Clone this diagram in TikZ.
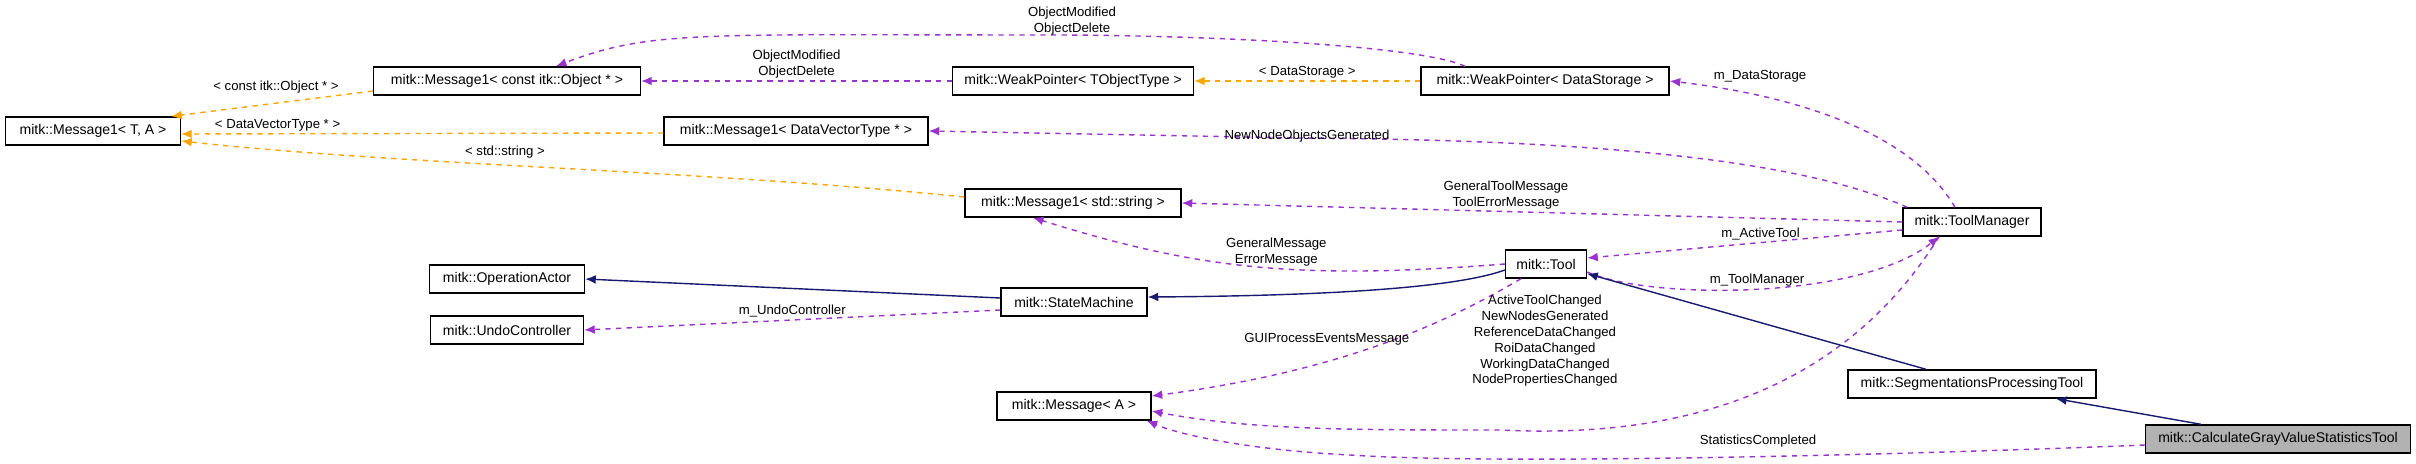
\documentclass[tikz,border=0pt]{standalone}
\usepackage{fontspec}
\setmainfont{Liberation Sans}
\usepackage{tikz}
\usetikzlibrary{arrows.meta}
\definecolor{navy}{HTML}{191970}
\definecolor{purp}{HTML}{9A32CD}
\definecolor{orng}{HTML}{FFA500}
\tikzset{>={Latex[length=6pt,width=5pt]}}
\tikzset{cls/.style={draw,thick,fill=white,inner sep=0pt,minimum height=0.56cm,font=\fontsize{8}{9}\selectfont}}
\tikzset{inh/.style={->,navy,thick}}
\tikzset{use/.style={->,purp,thick,dashed}}
\tikzset{tmpl/.style={->,orng,thick,dashed}}
\tikzset{lbl/.style={text=black,font=\fontsize{7.5}{9}\selectfont,align=center,inner sep=1pt}}

\begin{document}
\begin{tikzpicture}[x=0.02cm,y=-0.02cm]
	\useasboundingbox (0,0) rectangle (2416,463);
	\node[cls,minimum width=3.5cm] (msgta) at (93,131) {mitk::Message1\textless{} T, A \textgreater};
	\node[cls,minimum width=5.34cm] (msgobj) at (507,81) {mitk::Message1\textless{} const itk::Object * \textgreater};
	\node[cls,minimum width=5.28cm] (msgdv) at (796,131) {mitk::Message1\textless{} DataVectorType * \textgreater};
	\node[cls,minimum width=3.1cm] (opactor) at (507,279) {mitk::OperationActor};
	\node[cls,minimum width=3.06cm] (undo) at (507,330) {mitk::UndoController};
	\node[cls,minimum width=4.82cm] (wpobj) at (1073,81) {mitk::WeakPointer\textless{} TObjectType \textgreater};
	\node[cls,minimum width=4.96cm] (wpds) at (1545,81) {mitk::WeakPointer\textless{} DataStorage \textgreater};
	\node[cls,minimum width=4.32cm] (msgstr) at (1073,203) {mitk::Message1\textless{} std::string \textgreater};
	\node[cls,minimum width=2.76cm] (toolmgr) at (1972,222) {mitk::ToolManager};
	\node[cls,minimum width=1.62cm] (tool) at (1546,264) {mitk::Tool};
	\node[cls,minimum width=2.92cm] (statem) at (1074,302) {mitk::StateMachine};
	\node[cls,minimum width=3.08cm] (msga) at (1074,406) {mitk::Message\textless{} A \textgreater};
	\node[cls,minimum width=4.96cm] (segtool) at (1972,384) {mitk::SegmentationsProcessingTool};
	\node[cls,minimum width=5.3cm,fill=gray!60] (calc) at (2278,439) {mitk::CalculateGrayValueStatisticsTool};
	% template instances
	\draw[tmpl] ([yshift=-0.2cm]msgobj.west) -- ([xshift=-0.2cm]msgta.north east);
	\draw[tmpl] ([yshift=-0.04cm]msgdv.west) -- node[lbl,above,pos=0.8]{\textless{} DataVectorType * \textgreater} ([yshift=-0.06cm]msgta.east);
	\draw[tmpl] ([yshift=0.12cm]msgstr.west) .. controls (700,170) and (400,165) .. ([yshift=-0.2cm]msgta.east);
	\draw[tmpl] (wpds.west) -- node[lbl,above]{\textless{} DataStorage \textgreater} (wpobj.east);
	\node[lbl] (lobj) at (276,87) {\textless{} const itk::Object * \textgreater};
	\node[lbl] (lstr) at (505,152) {\textless{} std::string \textgreater};
	% usage
	\draw[use] (wpobj.west) -- node[lbl,above]{ObjectModified\\ObjectDelete} (msgobj.east);
	\draw[use] ([xshift=-1.6cm]wpds.north) .. controls (1420,45) and (1200,35) .. (1050,35) .. controls (700,35) and (650,30) .. ([xshift=0.98cm]msgobj.north);
	\node[lbl] (lwpds) at (1072,21) {ObjectModified\\ObjectDelete};
	\draw[use] ([xshift=-0.34cm]toolmgr.north) .. controls (1910,130) and (1790,95) .. (wpds.east);
	\node[lbl] (lds) at (1760,76) {m\_DataStorage};
	\draw[use] ([xshift=0.1cm]toolmgr.north west) .. controls (1800,160) and (1600,140) .. (1300,138) -- (msgdv.east);
	\node[lbl] (lnew) at (1307,136) {NewNodeObjectsGenerated};
	\draw[use] (toolmgr.west) -- node[lbl,above,pos=0.55]{GeneralToolMessage\\ToolErrorMessage} (msgstr.east);
	\draw[use] ([yshift=-0.16cm]toolmgr.west) -- node[lbl,above,pos=0.45]{m\_ActiveTool} ([yshift=0.12cm]tool.east);
	\draw[use] ([yshift=-0.16cm]tool.east) .. controls (1650,300) and (1860,300) .. node[lbl,above,pos=0.5]{m\_ToolManager} ([xshift=-0.66cm]toolmgr.south);
	\draw[use] (tool.west) .. controls (1300,280) and (1200,270) .. node[lbl,above,pos=0.45]{GeneralMessage\\ErrorMessage} ([xshift=-0.8cm]msgstr.south);
	\draw[use] ([xshift=-0.5cm]tool.south) .. controls (1450,320) and (1350,370) .. node[lbl,pos=0.65,above=8pt]{GUIProcessEventsMessage} ([yshift=0.2cm]msga.east);
	\draw[use] ([xshift=-0.66cm]toolmgr.south) .. controls (1850,380) and (1700,440) .. (1500,430) .. controls (1350,430) and (1250,430) .. ([yshift=-0.1cm]msga.east);
	\node[lbl] (lchg) at (1545,341) {ActiveToolChanged\\NewNodesGenerated\\ReferenceDataChanged\\RoiDataChanged\\WorkingDataChanged\\NodePropertiesChanged};
	\draw[use] ([yshift=-0.12cm]calc.west) .. controls (1900,455) and (1500,465) .. (1350,455) .. controls (1250,450) and (1180,435) .. ([xshift=-0.1cm]msga.south east);
	\node[lbl] (lstat) at (1758,441) {StatisticsCompleted};
	\draw[use] ([yshift=-0.16cm]statem.west) -- node[lbl,above,pos=0.5]{m\_UndoController} (undo.east);
	% inheritance
	\draw[inh] ([yshift=0.08cm]statem.west) -- (opactor.east);
	\draw[inh] ([yshift=-0.12cm]tool.west) .. controls (1450,290) and (1300,296) .. ([yshift=0.1cm]statem.east);
	\draw[inh] ([xshift=-0.92cm]segtool.north) -- ([yshift=0.1cm]tool.south east);
	\draw[inh] ([xshift=-1.54cm]calc.north) -- ([xshift=1.68cm]segtool.south);
\end{tikzpicture}
\end{document}
